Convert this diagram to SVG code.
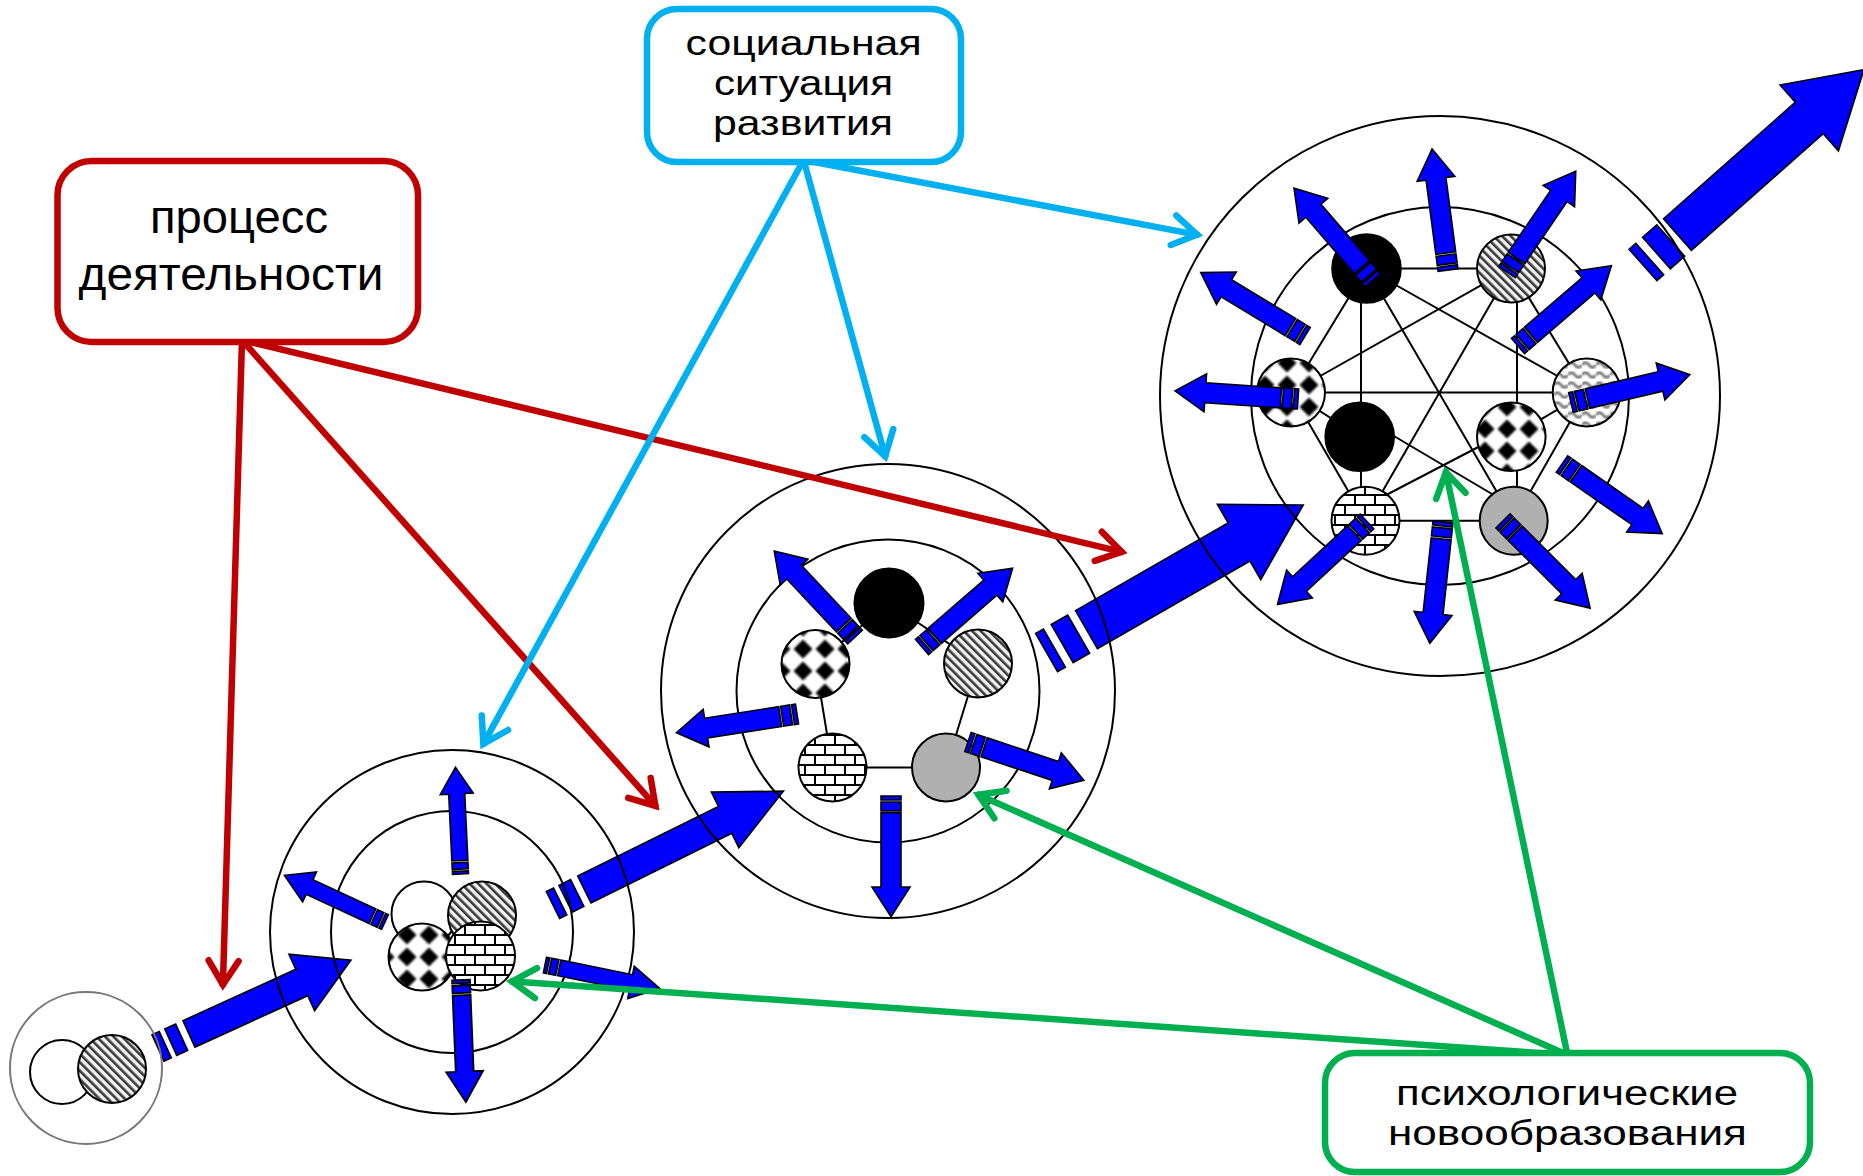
<svg xmlns="http://www.w3.org/2000/svg" xmlns:xlink="http://www.w3.org/1999/xlink" width="1863" height="1176" viewBox="0 0 1863 1176">
<style>
.ring{fill:none;stroke:#000;stroke-width:2}
.dot{stroke:#000;stroke-width:2}
.ln{fill:none;stroke:#000;stroke-width:2}
.ba{fill:#0000FF;stroke:#000;stroke-width:1.6;stroke-linejoin:miter}
.cr{fill:none;stroke:#C00000;stroke-width:6.5}
.cb{fill:none;stroke:#00B0F0;stroke-width:6.5}
.cg{fill:none;stroke:#00B050;stroke-width:6.5}
.box{fill:#fff;stroke-width:6.5}
.t{font-family:"Liberation Sans","Open Sans","DejaVu Sans",sans-serif;fill:#000;text-anchor:middle}
</style>
<defs>
<filter id="soft" x="-20%" y="-20%" width="140%" height="140%"><feGaussianBlur stdDeviation="0.8"/></filter>
<pattern id="pHatch" patternUnits="userSpaceOnUse" width="6" height="6" patternTransform="rotate(-45)"><rect width="6" height="6" fill="#f2f2f2"/><rect width="2.6" height="6" fill="#3a3a3a"/></pattern>
<pattern id="pDiamond" patternUnits="userSpaceOnUse" width="22" height="22"><rect width="22" height="22" fill="#fff"/><path d="M11,1.5 L20.5,11 L11,20.5 L1.5,11z" fill="#000" filter="url(#soft)"/></pattern>
<pattern id="pBrick" patternUnits="userSpaceOnUse" width="20" height="20"><rect width="20" height="20" fill="#fff"/><path d="M0,5H20 M0,15H20 M5,5V15 M15,15V20 M15,0V5" stroke="#000" stroke-width="2"/></pattern>
<pattern id="pWave" patternUnits="userSpaceOnUse" width="14" height="10"><rect width="14" height="10" fill="#fff"/><path d="M0,5 Q3.5,0 7,5 T14,5" fill="none" stroke="#3a3a3a" stroke-width="2" filter="url(#soft)"/></pattern>
<path id="aS" d="M0,-10h4v20h-4z M6,-10h9v20h-9z M17,-10H92V-19L122,0L92,19V10H17z"/>
<path id="aB" d="M0,-8h3v16h-3z M5,-8h7v16h-7z M14,-8H84V-16.5L112,0L84,16.5V8H14z"/>
<marker id="mRed" markerUnits="userSpaceOnUse" viewBox="-40 -25 45 50" markerWidth="45" markerHeight="50" refX="-5" refY="0" orient="auto"><path d="M-31,-15 L-7,0 L-31,15" fill="none" stroke="#C00000" stroke-width="6.5" stroke-linecap="round" stroke-linejoin="miter"/></marker>
<marker id="mBlue" markerUnits="userSpaceOnUse" viewBox="-40 -25 45 50" markerWidth="45" markerHeight="50" refX="-5" refY="0" orient="auto"><path d="M-31,-15 L-7,0 L-31,15" fill="none" stroke="#00B0F0" stroke-width="6.5" stroke-linecap="round" stroke-linejoin="miter"/></marker>
<marker id="mGreen" markerUnits="userSpaceOnUse" viewBox="-40 -25 45 50" markerWidth="45" markerHeight="50" refX="-5" refY="0" orient="auto"><path d="M-31,-15 L-7,0 L-31,15" fill="none" stroke="#00B050" stroke-width="6.5" stroke-linecap="round" stroke-linejoin="miter"/></marker>
</defs>
<rect width="1863" height="1176" fill="#fff"/>

<g id="stage-transitions">
<path class="ba" transform="translate(158,1048) rotate(-24.5)" d="M0,-14.5h8v29h-8z M14,-14.5h12v29h-12z M34,-14.5H158V-31L212,0L158,31V14.5H34z"/>
<path class="ba" transform="translate(553,905) rotate(-26.3)" d="M0,-15h8v30h-8z M14,-15h13v30h-13z M35,-15H192V-31L257,0L192,31V15H35z"/>
<path class="ba" transform="translate(1046.6,652.6) rotate(-29.9)" d="M0,-22h9v44h-9z M18,-22h19v44h-19z M46,-22H222V-43.5L296,0L222,43.5V22H46z"/>
<path class="ba" transform="translate(1643,265) rotate(-41.5)" d="M0,-21h9v42h-9z M18,-21h19v42h-19z M46,-21H222V-44L295,0L222,44V21H46z"/>
</g>

<g id="stage1">
<circle cx="86" cy="1068" r="76" fill="none" stroke="#777" stroke-width="2"/>
<circle class="dot" cx="62" cy="1072" r="32" fill="#fff"/>
<circle class="dot" cx="112" cy="1069" r="34" fill="url(#pHatch)"/>
</g>

<g id="stage2">
<circle class="ring" cx="452" cy="932" r="182"/>
<circle class="ring" cx="452" cy="932" r="121"/>
<circle class="dot" cx="424" cy="914" r="32.5" fill="#fff"/>
<circle class="dot" cx="482" cy="915.5" r="34" fill="url(#pHatch)"/>
<circle class="dot" cx="422" cy="957" r="33.5" fill="url(#pDiamond)"/>
<circle class="dot" cx="480.5" cy="956" r="34.5" fill="url(#pBrick)"/>
<use href="#aB" class="ba" transform="translate(460.5,874) rotate(-92.7) scale(0.955,1)"/>
<use href="#aB" class="ba" transform="translate(385,922) rotate(-155.1) scale(0.99,1)"/>
<use href="#aB" class="ba" transform="translate(545,965) rotate(11.5) scale(1.045,1)"/>
<use href="#aB" class="ba" transform="translate(461,980) rotate(87.7) scale(1.09,1.12)"/>
</g>

<g id="stage3">
<circle class="ring" cx="888" cy="691" r="227"/>
<circle class="ring" cx="888" cy="691" r="151.5"/>
<polygon class="ln" points="889,603 978,663.5 946,767.5 832.5,767.5 815.5,664"/>
<circle class="dot" cx="889" cy="603" r="34.5" fill="#000"/>
<circle class="dot" cx="815.5" cy="664" r="34" fill="url(#pDiamond)"/>
<circle class="dot" cx="978" cy="663.5" r="34" fill="url(#pHatch)"/>
<circle class="dot" cx="832.5" cy="767.5" r="34" fill="url(#pBrick)"/>
<circle class="dot" cx="946" cy="767.5" r="34" fill="#B0B0B0"/>
<use href="#aS" class="ba" transform="translate(855,637) rotate(-133.2) scale(0.967,1)"/>
<use href="#aS" class="ba" transform="translate(922,647) rotate(-41) scale(0.984,1)"/>
<use href="#aS" class="ba" transform="translate(797,714) rotate(171.2)"/>
<use href="#aS" class="ba" transform="translate(968,742) rotate(18.3)"/>
<use href="#aS" class="ba" transform="translate(891,796) rotate(90) scale(0.99,1)"/>
</g>

<g id="stage4">
<circle class="ring" cx="1440" cy="396" r="280"/>
<circle class="ring" cx="1440" cy="396" r="189"/>
<polygon class="ln" points="1366.5,268.5 1511,268.4 1586.7,392.5 1513.7,520.8 1365.5,520.8 1291,392.5"/>
<path class="ln" d="M1366.5,268.5L1513.7,520.8 M1511,268.4L1365.5,520.8 M1291,392.5H1586.7 M1366.5,268.5L1586.7,392.5 M1511,268.4L1291,392.5 M1361,268.5V520.8 M1517,268.4V520.8 M1291,392.5L1359.7,436.7 M1586.7,392.5L1511.3,436.7 M1360,416L1514,507 M1511,430L1365,506"/>
<circle class="dot" cx="1366.5" cy="268.5" r="34.3" fill="#000"/>
<circle class="dot" cx="1511" cy="268.4" r="34" fill="url(#pHatch)"/>
<circle class="dot" cx="1291" cy="392.5" r="34" fill="url(#pDiamond)"/>
<circle class="dot" cx="1586.7" cy="392.5" r="34" fill="url(#pWave)"/>
<circle class="dot" cx="1359.7" cy="436.7" r="34.3" fill="#000"/>
<circle class="dot" cx="1511.3" cy="436.7" r="34.3" fill="url(#pDiamond)"/>
<circle class="dot" cx="1365.5" cy="520.8" r="34" fill="url(#pBrick)"/>
<circle class="dot" cx="1513.7" cy="520.8" r="34" fill="#B0B0B0"/>
<use href="#aS" class="ba" transform="translate(1373,280) rotate(-130.7) scale(0.993,1)"/>
<use href="#aS" class="ba" transform="translate(1448,270) rotate(-97.5)"/>
<use href="#aS" class="ba" transform="translate(1507,272) rotate(-55.7)"/>
<use href="#aS" class="ba" transform="translate(1305,336) rotate(-148.7)"/>
<use href="#aS" class="ba" transform="translate(1518,346) rotate(-40.7) scale(1.01,1)"/>
<use href="#aS" class="ba" transform="translate(1298,399) rotate(-176.2) scale(1.01,1)"/>
<use href="#aS" class="ba" transform="translate(1571,402.5) rotate(-13.2)"/>
<use href="#aS" class="ba" transform="translate(1562,464) rotate(34.8)"/>
<use href="#aS" class="ba" transform="translate(1367,521.5) rotate(137.2)"/>
<use href="#aS" class="ba" transform="translate(1443,522) rotate(96.2)"/>
<use href="#aS" class="ba" transform="translate(1503,521) rotate(45) scale(1.01,1)"/>
</g>

<g id="connectors">
<line class="cr" x1="242" y1="340" x2="222.85" y2="986.7" marker-end="url(#mRed)"/>
<line class="cr" x1="242" y1="340" x2="656.7" y2="807.3" marker-end="url(#mRed)"/>
<line class="cr" x1="242" y1="340" x2="1123.6" y2="552.4" marker-end="url(#mRed)"/>
<line class="cb" x1="803.6" y1="160" x2="482.4" y2="745.6" marker-end="url(#mBlue)"/>
<line class="cb" x1="803.6" y1="160" x2="885.7" y2="458.2" marker-end="url(#mBlue)"/>
<line class="cb" x1="803.6" y1="160" x2="1199.1" y2="235.1" marker-end="url(#mBlue)"/>
<line class="cg" x1="1567.5" y1="1055" x2="510" y2="981.3" marker-end="url(#mGreen)"/>
<line class="cg" x1="1567.5" y1="1055" x2="976.6" y2="794" marker-end="url(#mGreen)"/>
<line class="cg" x1="1567.5" y1="1055" x2="1445.5" y2="470.4" marker-end="url(#mGreen)"/>
</g>

<g id="activity-process">
<rect class="box" x="57.5" y="161" width="360.5" height="181" rx="34" stroke="#C00000"/>
<text class="t" font-size="46" x="239" y="233" textLength="178" lengthAdjust="spacingAndGlyphs">процесс</text>
<text class="t" font-size="46" x="231" y="290" textLength="305" lengthAdjust="spacingAndGlyphs">деятельности</text>
</g>

<g id="social-situation">
<rect class="box" x="647" y="9" width="314" height="153" rx="30" stroke="#00B0F0"/>
<text class="t" font-size="35" x="803.6" y="55" textLength="236" lengthAdjust="spacingAndGlyphs">социальная</text>
<text class="t" font-size="35" x="803.5" y="95" textLength="179" lengthAdjust="spacingAndGlyphs">ситуация</text>
<text class="t" font-size="35" x="803" y="135" textLength="180" lengthAdjust="spacingAndGlyphs">развития</text>
</g>

<g id="psychological-neoformations">
<rect class="box" x="1325" y="1053" width="485" height="119" rx="30" stroke="#00B050"/>
<text class="t" font-size="35" x="1567" y="1105" textLength="342" lengthAdjust="spacingAndGlyphs">психологические</text>
<text class="t" font-size="35" x="1567.5" y="1145" textLength="359" lengthAdjust="spacingAndGlyphs">новообразования</text>
</g>
</svg>
